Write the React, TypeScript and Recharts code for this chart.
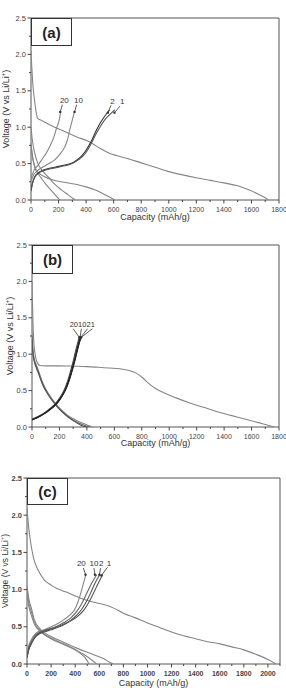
import React from "react";
import {
  LineChart,
  Line,
  XAxis,
  YAxis,
  ReferenceArea,
  ReferenceLine,
  ReferenceDot,
} from "recharts";

type Pt = [number, number];

// ---- panel (a) : capacity (mAh/g), voltage (V) ----
const aDischarge1: Pt[] = [
  [0, 2.05], [5, 1.85], [12, 1.62], [25, 1.38], [38, 1.2], [48, 1.12], [80, 1.09],
  [150, 1.02], [220, 0.96], [280, 0.91], [340, 0.86], [400, 0.82], [441, 0.78],
  [500, 0.71], [560, 0.65], [620, 0.61], [700, 0.57], [800, 0.51], [900, 0.45],
  [1000, 0.39], [1100, 0.345], [1200, 0.305], [1300, 0.27], [1400, 0.235],
  [1500, 0.195], [1580, 0.14], [1650, 0.08], [1700, 0.03], [1722, 0],
];
const aDischarge2: Pt[] = [
  [0, 0.78], [15, 0.55], [40, 0.4], [99, 0.32], [160, 0.275], [220, 0.25],
  [280, 0.23], [341, 0.21], [400, 0.18], [462, 0.14], [520, 0.09], [570, 0.04], [607, 0],
];
const aDischarge10: Pt[] = [
  [0, 1.0], [10, 0.82], [25, 0.66], [50, 0.5], [80, 0.41], [123, 0.32], [170, 0.22],
  [220, 0.14], [270, 0.07], [305, 0.02], [320, 0],
];
const aDischarge20: Pt[] = [
  [0, 0.75], [10, 0.6], [25, 0.48], [45, 0.38], [75, 0.3], [110, 0.21], [148, 0.13],
  [180, 0.06], [210, 0],
];
const aCharge1: Pt[] = [
  [0, 0.12], [10, 0.22], [27, 0.31], [50, 0.36], [75, 0.39], [120, 0.42], [172, 0.44],
  [220, 0.46], [269, 0.48], [310, 0.51], [341, 0.55], [375, 0.6], [402, 0.66],
  [438, 0.78], [470, 0.9], [500, 1.0], [535, 1.1], [570, 1.17], [607, 1.24],
];
const aCharge2: Pt[] = [
  [0, 0.13], [10, 0.23], [27, 0.32], [50, 0.37], [75, 0.4], [120, 0.43], [172, 0.45],
  [220, 0.47], [269, 0.49], [310, 0.52], [341, 0.56], [375, 0.62], [402, 0.69],
  [438, 0.81], [470, 0.94], [500, 1.05], [535, 1.15], [571, 1.24],
];
const aCharge10: Pt[] = [
  [0, 0.26], [20, 0.35], [45, 0.4], [75, 0.44], [120, 0.49], [172, 0.55], [210, 0.63],
  [245, 0.73], [265, 0.83], [281, 0.96], [300, 1.1], [317, 1.22],
];
const aCharge20: Pt[] = [
  [0, 0.3], [20, 0.4], [52, 0.48], [80, 0.56], [112, 0.65], [140, 0.75], [165, 0.86],
  [186, 0.99], [205, 1.1], [216, 1.22],
];

// ---- panel (b) ----
const bDischarge1: Pt[] = [
  [0, 2.0], [3, 1.75], [7, 1.45], [12, 1.2], [22, 1.01], [35, 0.9], [58, 0.845],
  [100, 0.84], [200, 0.84], [300, 0.835], [400, 0.83], [484, 0.82], [560, 0.81],
  [640, 0.8], [700, 0.78], [760, 0.74], [810, 0.67], [850, 0.6], [900, 0.53],
  [960, 0.47], [1050, 0.4], [1150, 0.33], [1250, 0.27], [1350, 0.21], [1450, 0.16],
  [1550, 0.11], [1650, 0.06], [1720, 0.025], [1765, 0],
];
const bDischarge2: Pt[] = [
  [0, 1.3], [5, 1.1], [15, 0.95], [30, 0.86], [46, 0.78], [80, 0.6], [119, 0.46],
  [160, 0.35], [216, 0.23], [260, 0.16], [314, 0.1], [370, 0.05], [410, 0.02], [440, 0],
];
const bDischarge10: Pt[] = [
  [0, 1.25], [5, 1.07], [15, 0.93], [30, 0.84], [46, 0.76], [80, 0.58], [119, 0.45],
  [160, 0.34], [216, 0.22], [260, 0.15], [314, 0.08], [370, 0.03], [420, 0],
];
const bDischarge20: Pt[] = [
  [0, 1.2], [5, 1.04], [15, 0.91], [30, 0.82], [46, 0.74], [80, 0.57], [119, 0.44],
  [160, 0.33], [216, 0.21], [260, 0.14], [314, 0.07], [360, 0.02], [400, 0],
];
const bCharge1: Pt[] = [
  [0, 0.1], [40, 0.13], [95, 0.19], [130, 0.24], [170, 0.3], [208, 0.39], [245, 0.51],
  [270, 0.63], [294, 0.78], [315, 0.93], [332, 1.06], [346, 1.16], [358, 1.23],
];
const bCharge2: Pt[] = [
  [0, 0.1], [40, 0.13], [95, 0.19], [130, 0.24], [169, 0.3], [207, 0.39], [243, 0.51],
  [268, 0.63], [292, 0.78], [313, 0.93], [330, 1.06], [343, 1.16], [354, 1.23],
];
const bCharge10: Pt[] = [
  [0, 0.1], [40, 0.13], [95, 0.19], [130, 0.24], [168, 0.3], [205, 0.39], [241, 0.51],
  [265, 0.63], [289, 0.78], [310, 0.93], [326, 1.06], [340, 1.16], [350, 1.23],
];
const bCharge20: Pt[] = [
  [0, 0.11], [40, 0.14], [95, 0.2], [130, 0.25], [166, 0.31], [202, 0.4], [237, 0.52],
  [261, 0.64], [284, 0.79], [305, 0.94], [321, 1.07], [335, 1.17], [345, 1.23],
];

// ---- panel (c) ----
const cDischarge1: Pt[] = [
  [0, 2.1], [5, 2.0], [15, 1.82], [28, 1.66], [55, 1.42], [90, 1.27], [143, 1.13],
  [200, 1.06], [253, 1.01], [320, 0.97], [391, 0.92], [487, 0.86], [556, 0.83],
  [611, 0.81], [694, 0.77], [804, 0.68], [900, 0.62], [1000, 0.55], [1100, 0.49],
  [1200, 0.43], [1300, 0.38], [1400, 0.34], [1500, 0.3], [1600, 0.27], [1700, 0.23],
  [1800, 0.19], [1900, 0.13], [2000, 0.06], [2066, 0],
];
const cDischarge2: Pt[] = [
  [0, 1.06], [10, 0.93], [20, 0.84], [33, 0.77], [60, 0.6], [116, 0.46], [198, 0.37],
  [308, 0.29], [418, 0.21], [529, 0.14], [639, 0.07], [690, 0.02], [715, 0],
];
const cDischarge10: Pt[] = [
  [0, 1.02], [10, 0.88], [20, 0.79], [33, 0.72], [60, 0.57], [116, 0.44], [198, 0.35],
  [308, 0.27], [418, 0.18], [480, 0.12], [540, 0.05], [578, 0],
];
const cDischarge20: Pt[] = [
  [0, 0.95], [10, 0.82], [20, 0.74], [33, 0.67], [60, 0.54], [116, 0.43], [198, 0.34],
  [308, 0.26], [418, 0.17], [480, 0.09], [516, 0],
];
const cCharge1: Pt[] = [
  [0, 0.08], [15, 0.19], [33, 0.26], [60, 0.34], [88, 0.39], [143, 0.43], [200, 0.46],
  [253, 0.49], [310, 0.53], [364, 0.58], [420, 0.64], [470, 0.72], [510, 0.82],
  [545, 0.93], [575, 1.03], [605, 1.13], [628, 1.2],
];
const cCharge2: Pt[] = [
  [0, 0.09], [15, 0.2], [33, 0.27], [60, 0.35], [88, 0.4], [143, 0.44], [200, 0.47],
  [253, 0.5], [310, 0.54], [364, 0.59], [415, 0.66], [460, 0.75], [500, 0.86],
  [535, 0.98], [565, 1.09], [605, 1.2],
];
const cCharge10: Pt[] = [
  [0, 0.1], [15, 0.22], [33, 0.29], [60, 0.37], [88, 0.41], [143, 0.45], [200, 0.48],
  [253, 0.51], [310, 0.56], [364, 0.62], [410, 0.7], [450, 0.8], [490, 0.93],
  [525, 1.05], [555, 1.14], [580, 1.2],
];
const cCharge20: Pt[] = [
  [0, 0.12], [15, 0.25], [33, 0.32], [60, 0.39], [88, 0.43], [143, 0.46], [200, 0.5],
  [253, 0.54], [310, 0.6], [364, 0.67], [391, 0.72], [420, 0.82], [446, 0.95],
  [468, 1.08], [487, 1.19],
];

// ticks
const xTicks1800 = [0, 100, 200, 300, 400, 500, 600, 700, 800, 900, 1000, 1100, 1200, 1300, 1400, 1500, 1600, 1700, 1800];
const xTicks2100 = [0, 100, 200, 300, 400, 500, 600, 700, 800, 900, 1000, 1100, 1200, 1300, 1400, 1500, 1600, 1700, 1800, 1900, 2000, 2100];
const yTicks = [0, 0.25, 0.5, 0.75, 1.0, 1.25, 1.5, 1.75, 2.0, 2.25, 2.5];

// cycle labels: text position and arrow (from -> to)
type Note = { label: string; tx: number; ty: number; x1: number; y1: number; x2: number; y2: number };
const aNotes: Note[] = [
  { label: "20", tx: 242, ty: 1.37, x1: 228, y1: 1.31, x2: 212, y2: 1.21 },
  { label: "10", tx: 344, ty: 1.37, x1: 331, y1: 1.31, x2: 316, y2: 1.21 },
  { label: "2", tx: 591, ty: 1.36, x1: 581, y1: 1.3, x2: 558, y2: 1.2 },
  { label: "1", tx: 663, ty: 1.36, x1: 646, y1: 1.29, x2: 606, y2: 1.2 },
];
const bNotes: Note[] = [
  { label: "20", tx: 305, ty: 1.41, x1: 300, y1: 1.35, x2: 345, y2: 1.23 },
  { label: "10", tx: 366, ty: 1.41, x1: 360, y1: 1.35, x2: 350, y2: 1.23 },
  { label: "2", tx: 412, ty: 1.41, x1: 405, y1: 1.35, x2: 354, y2: 1.23 },
  { label: "1", tx: 443, ty: 1.41, x1: 440, y1: 1.35, x2: 358, y2: 1.23 },
];
const cNotes: Note[] = [
  { label: "20", tx: 451, ty: 1.35, x1: 468, y1: 1.29, x2: 486, y2: 1.2 },
  { label: "10", tx: 556, ty: 1.35, x1: 556, y1: 1.29, x2: 564, y2: 1.2 },
  { label: "2", tx: 617, ty: 1.35, x1: 611, y1: 1.29, x2: 601, y2: 1.2 },
  { label: "1", tx: 680, ty: 1.35, x1: 668, y1: 1.3, x2: 618, y2: 1.19 },
];

const toRows = (pts: Pt[]) => pts.map(([cap, v]) => ({ cap, v }));

const FONT = "'Liberation Sans', Arial, sans-serif";

const XTick = ({ x, y, payload, bold }: any) => {
  const major = Math.abs(payload.value % 200) < 1e-6;
  return (
    <g>
      <line x1={x} x2={x} y1={y} y2={y + (major ? 3.5 : 2)} stroke="#444" />
      {major && (
        <text x={x} y={y + 11.5} textAnchor="middle" fontSize={7} fontWeight={bold ? 700 : 400} fill="#444" fontFamily={FONT}>
          {payload.value}
        </text>
      )}
    </g>
  );
};

const YTick = ({ x, y, payload, bold }: any) => {
  const major = Math.abs((payload.value * 2) % 1) < 1e-6;
  return (
    <g>
      <line x1={x} x2={x - (major ? 3.5 : 2)} y1={y} y2={y} stroke="#444" />
      {major && (
        <text x={x - 5} y={y + 2.6} textAnchor="end" fontSize={7.5} fontWeight={bold ? 700 : 400} fill="#444" fontFamily={FONT}>
          {payload.value.toFixed(1)}
        </text>
      )}
    </g>
  );
};

const YLabel = ({ viewBox, cx, size }: any) => {
  const cy = viewBox.y + viewBox.height / 2;
  return (
    <text x={cx} y={cy} transform={`rotate(-90 ${cx} ${cy})`} textAnchor="middle" dominantBaseline="central" fontSize={size} fill="#333" fontFamily={FONT}>
      Voltage (V vs Li/Li<tspan fontSize={size * 0.65} dy={-3}>+</tspan>
      <tspan dy={3}>)</tspan>
    </text>
  );
};

const XLabel = ({ viewBox, dy }: any) => (
  <text x={viewBox.x + viewBox.width / 2} y={viewBox.y + dy} textAnchor="middle" dominantBaseline="central" fontSize={9} fill="#333" fontFamily={FONT}>
    Capacity (mAh/g)
  </text>
);

type Series = { pts: Pt[]; color: string };

type PanelProps = {
  top: number;
  height: number;
  yWidth: number;
  right: number;
  xHeight: number;
  xMax: number;
  xTicks: number[];
  series: Series[];
  notes: Note[];
  noteSize: number;
  tag: string;
  tagBox: { w: number; h: number };
  yLabelX: number;
  yLabelSize: number;
  xLabelDy: number;
  bold?: boolean;
};

const Panel = (p: PanelProps) => (
  <div style={{ position: "absolute", left: 0, top: p.top, width: 286, height: p.height }}>
    <LineChart width={286} height={p.height} margin={{ top: 18, right: p.right, left: 0, bottom: 0 }}>
      <XAxis
        type="number"
        dataKey="cap"
        domain={[0, p.xMax]}
        ticks={p.xTicks}
        interval={0}
        tickSize={0}
        tickMargin={0}
        axisLine={false}
        tickLine={false}
        height={p.xHeight}
        tick={(t: any) => <XTick {...t} bold={p.bold} />}
        label={<XLabel dy={p.xLabelDy} />}
        allowDataOverflow
      />
      <YAxis
        type="number"
        dataKey="v"
        domain={[0, 2.5]}
        ticks={yTicks}
        interval={0}
        tickSize={0}
        tickMargin={0}
        axisLine={false}
        tickLine={false}
        width={p.yWidth}
        tick={(t: any) => <YTick {...t} bold={p.bold} />}
        label={<YLabel cx={p.yLabelX} size={p.yLabelSize} />}
        allowDataOverflow
      />
      <ReferenceArea x1={0} x2={p.xMax} y1={0} y2={2.5} fill="none" stroke="#555" strokeWidth={1} />
      {p.series.map((s, i) => (
        <Line
          key={i}
          data={toRows(s.pts)}
          dataKey="v"
          type="monotone"
          stroke={s.color}
          strokeWidth={1.1}
          dot={false}
          isAnimationActive={false}
        />
      ))}
      {p.notes.map((n, i) => (
        <ReferenceLine
          key={"l" + i}
          segment={[{ x: n.x1, y: n.y1 }, { x: n.x2, y: n.y2 }]}
          stroke="#333"
          strokeWidth={0.8}
        />
      ))}
      {p.notes.map((n, i) => (
        <ReferenceDot key={"t" + i} x={n.x2} y={n.y2} r={1.2} fill="#333" stroke="none" />
      ))}
      {p.notes.map((n, i) => (
        <ReferenceDot
          key={"d" + i}
          x={n.tx}
          y={n.ty}
          r={0}
          fill="none"
          stroke="none"
          label={{ value: n.label, position: "center", fontSize: p.noteSize, fill: "#333", fontFamily: FONT }}
        />
      ))}
    </LineChart>
    <div
      style={{
        position: "absolute",
        left: p.yWidth,
        top: 18,
        width: p.tagBox.w,
        height: p.tagBox.h,
        boxSizing: "border-box",
        border: "1.5px solid #333",
        display: "flex",
        alignItems: "center",
        justifyContent: "center",
        fontFamily: FONT,
        fontWeight: 700,
        fontSize: 15,
        color: "#222",
        background: "#fff",
      }}
    >
      {p.tag}
    </div>
  </div>
);

const GRAY = "#858585";
const DARK = "#333";

export default function App() {
  return (
    <div style={{ position: "absolute", left: 0, top: 0, width: 286, height: 688, background: "#fff", overflow: "hidden" }}>
      <Panel
        top={0}
        height={222}
        yWidth={31}
        right={7}
        xHeight={22}
        xMax={1800}
        xTicks={xTicks1800}
        series={[
          { pts: aDischarge1, color: GRAY },
          { pts: aDischarge2, color: GRAY },
          { pts: aDischarge10, color: GRAY },
          { pts: aDischarge20, color: GRAY },
          { pts: aCharge20, color: GRAY },
          { pts: aCharge10, color: GRAY },
          { pts: aCharge2, color: DARK },
          { pts: aCharge1, color: "#555" },
        ]}
        notes={aNotes}
        noteSize={8}
        tag="(a)"
        tagBox={{ w: 41, h: 28 }}
        yLabelX={6}
        yLabelSize={9}
        xLabelDy={16.5}
      />
      <Panel
        top={227}
        height={222}
        yWidth={32}
        right={7}
        xHeight={22}
        xMax={1800}
        xTicks={xTicks1800}
        series={[
          { pts: bDischarge1, color: GRAY },
          { pts: bDischarge2, color: GRAY },
          { pts: bDischarge10, color: "#666" },
          { pts: bDischarge20, color: "#555" },
          { pts: bCharge20, color: "#444" },
          { pts: bCharge10, color: DARK },
          { pts: bCharge2, color: "#222" },
          { pts: bCharge1, color: "#222" },
        ]}
        notes={bNotes}
        noteSize={7.5}
        tag="(b)"
        tagBox={{ w: 41, h: 29 }}
        yLabelX={10}
        yLabelSize={9}
        xLabelDy={16}
      />
      <Panel
        top={460}
        height={228}
        yWidth={27}
        right={6}
        xHeight={24}
        xMax={2100}
        xTicks={xTicks2100}
        series={[
          { pts: cDischarge1, color: GRAY },
          { pts: cDischarge2, color: GRAY },
          { pts: cDischarge10, color: GRAY },
          { pts: cDischarge20, color: GRAY },
          { pts: cCharge20, color: GRAY },
          { pts: cCharge10, color: "#666" },
          { pts: cCharge2, color: "#555" },
          { pts: cCharge1, color: "#555" },
        ]}
        notes={cNotes}
        noteSize={8}
        tag="(c)"
        tagBox={{ w: 41, h: 27 }}
        yLabelX={5}
        yLabelSize={8.5}
        xLabelDy={18.5}
        bold
      />
    </div>
  );
}
